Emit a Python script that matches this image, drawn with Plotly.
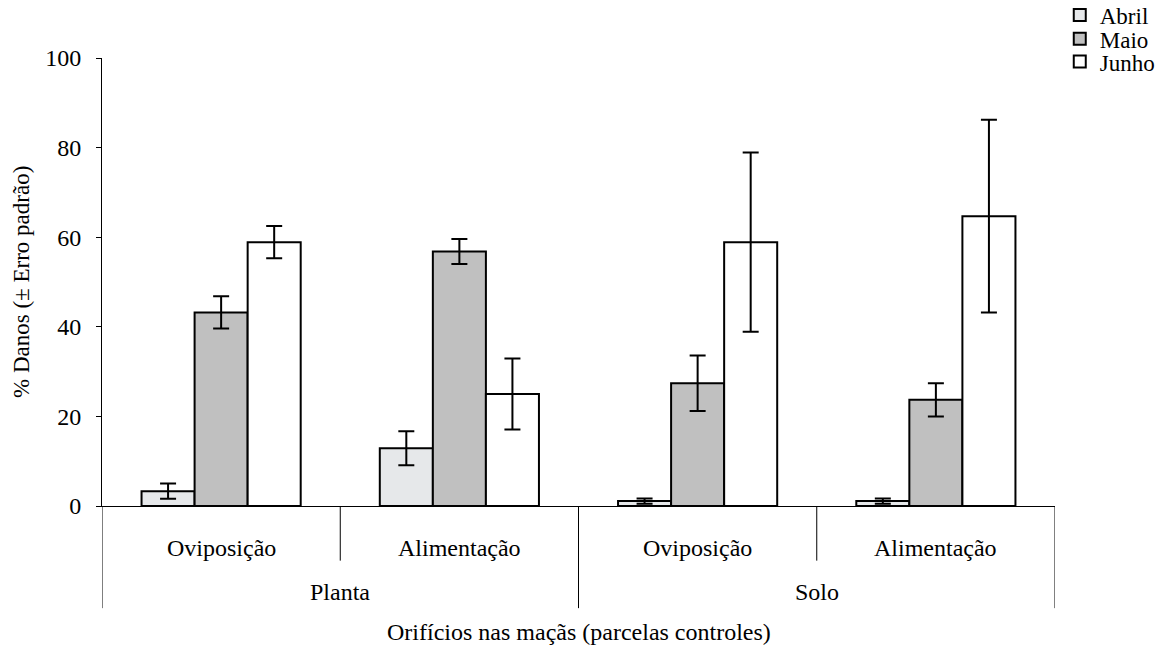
import plotly.graph_objects as go

# Categories: hole type (inner) within sampling site (outer)
tipos = ["Oviposição", "Alimentação", "Oviposição", "Alimentação"]
locais = ["Planta", "Solo"]
meses = ["Abril", "Maio", "Junho"]

# Mean damage (%) and standard error per month
abril = [3.3, 12.9, 1.1, 1.1]
abril_ep = [1.7, 3.8, 0.6, 0.6]
maio = [43.2, 56.8, 27.4, 23.7]
maio_ep = [3.6, 2.8, 6.2, 3.7]
junho = [58.9, 25.0, 58.9, 64.7]
junho_ep = [3.6, 7.9, 20.0, 21.5]

cores = ["#e6e8ea", "#c0c0c0", "#ffffff"]
FONT = "Liberation Serif, Times New Roman, Times, serif"

# one small legend box per month, stacked at the top right
legendas = ["legend", "legend2", "legend3"]
legenda_y = [1.096, 1.043, 0.992]

x = list(range(len(tipos)))
fig = go.Figure()
for nome, vals, ep, cor, leg in zip(meses, [abril, maio, junho],
                                    [abril_ep, maio_ep, junho_ep], cores,
                                    legendas):
    fig.add_trace(go.Bar(
        x=x, y=vals, name=nome, legend=leg, showlegend=True,
        marker=dict(color=cor, line=dict(color="black", width=2)),
        error_y=dict(type="data", array=ep, visible=True,
                     color="black", thickness=2, width=8),
    ))

leg_cfg = {}
for leg, ly in zip(legendas, legenda_y):
    leg_cfg[leg] = dict(x=1.005, y=ly, xanchor="left", yanchor="middle",
                        font=dict(family=FONT, size=23), itemwidth=30,
                        bgcolor="rgba(0,0,0,0)", visible=True)

fig.update_layout(
    width=1164, height=648,
    margin=dict(l=102, r=109, t=58, b=142, autoexpand=False),
    paper_bgcolor="white", plot_bgcolor="white",
    showlegend=True,
    barmode="group", bargap=0.332, bargroupgap=0,
    font=dict(family=FONT, color="black", size=22),
    xaxis=dict(range=[-0.5, len(tipos) - 0.5], showticklabels=False,
               ticks="", showgrid=False, zeroline=False,
               showline=True, linecolor="black", linewidth=1),
    yaxis=dict(range=[0, 100], tickvals=[0, 20, 40, 60, 80, 100],
               ticks="outside", ticklen=5, tickcolor="black",
               ticklabelstandoff=10,
               showgrid=False, zeroline=False,
               showline=True, linecolor="black", linewidth=1,
               tickfont=dict(family=FONT, size=24)),
    **leg_cfg,
)

# Inner category labels and short dividers
for i, t in enumerate(tipos):
    fig.add_annotation(x=i, y=-0.094, xref="x", yref="paper", text=t,
                       showarrow=False, yanchor="middle",
                       font=dict(family=FONT, size=24))
for b in [0.5, 2.5]:
    fig.add_shape(type="line", xref="x", yref="paper", x0=b, x1=b,
                  y0=0, y1=-0.122, line=dict(color="black", width=1))

# Outer category labels and long dividers
for j, loc in enumerate(locais):
    fig.add_annotation(x=2 * j + 0.5, y=-0.192, xref="x", yref="paper",
                       text=loc, showarrow=False, yanchor="middle",
                       font=dict(family=FONT, size=24))
for b in [-0.5, 1.5, 3.5]:
    fig.add_shape(type="line", xref="x", yref="paper", x0=b, x1=b,
                  y0=0, y1=-0.228, line=dict(color="black", width=1))

# Axis titles
fig.add_annotation(x=0.5, y=-0.282, xref="paper", yref="paper",
                   text="Orifícios nas maçãs (parcelas controles)",
                   showarrow=False, yanchor="middle",
                   font=dict(family=FONT, size=24))
fig.add_annotation(x=-0.085, y=0.5, xref="paper", yref="paper",
                   text="% Danos (± Erro padrão)", textangle=-90,
                   showarrow=False, xanchor="center", yanchor="middle",
                   font=dict(family=FONT, size=23))

fig.write_html("out.html")
